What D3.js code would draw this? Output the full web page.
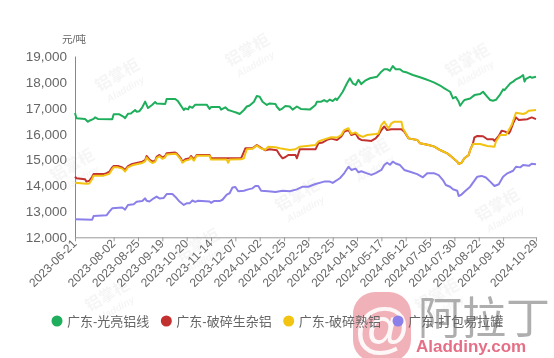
<!DOCTYPE html>
<html><head><meta charset="utf-8">
<script src="https://cdn.jsdelivr.net/npm/d3@7"></script>
<style>
html,body{margin:0;padding:0;background:#fff;}
svg{display:block;font-family:"Liberation Sans",Arial,"Noto Sans CJK SC",sans-serif;}
</style></head><body>
<svg id="c" width="554" height="358"></svg>
<script>
// ---- data ----
const tickLabels = ["2023-06-21","2023-08-02","2023-08-25","2023-09-19","2023-10-20","2023-11-14","2023-12-07","2024-01-02","2024-01-25","2024-02-29","2024-03-25","2024-04-19","2024-05-17","2024-06-12","2024-07-05","2024-07-30","2024-08-22","2024-09-18","2024-10-29"];
const tickIndex = [0,27,44,61,78,95,112,129,146,163,180,197,214,231,248,265,282,299,322];
const lastIndex = 322;
const seriesNames = ["广东-光亮铝线","广东-破碎生杂铝","广东-破碎熟铝","广东-打包易拉罐"];
const yTicks = [12000,13000,14000,15000,16000,17000,18000,19000];

// [day index, price]
const green = [[0,16800],[1,16600],[7,16570],[9,16460],[10,16500],[13,16570],[14,16630],[16,16570],[26,16560],[27,16750],[31,16750],[34,16650],[35,16600],[37,16770],[39,16780],[42,16915],[43,16850],[45,16870],[47,17020],[49,17240],[51,16990],[54,17120],[56,17220],[57,17170],[63,17150],[64,17340],[70,17340],[72,17250],[76,16915],[77,16980],[79,16940],[80,17050],[82,17000],[84,17120],[92,17120],[94,16960],[95,17030],[101,17030],[102,16930],[105,17020],[107,16915],[109,16880],[113,16810],[115,16760],[118,16915],[120,17050],[122,17090],[125,17235],[127,17455],[129,17430],[131,17235],[134,17110],[136,17170],[140,17150],[141,17040],[143,16915],[145,16980],[147,17070],[150,17050],[152,16930],[155,17050],[158,16950],[164,16930],[168,17110],[169,17235],[172,17235],[174,17300],[176,17235],[178,17320],[180,17260],[182,17360],[183,17300],[185,17455],[187,17620],[190,17945],[192,18140],[194,17945],[196,17880],[198,18080],[200,17915],[203,18060],[206,18140],[211,18200],[214,18395],[216,18485],[218,18490],[220,18430],[222,18610],[224,18490],[227,18490],[229,18400],[232,18360],[236,18265],[241,18180],[245,18100],[248,18040],[251,17970],[255,17860],[258,17750],[262,17620],[264,17365],[266,17420],[268,17235],[269,17080],[271,17235],[272,17300],[276,17360],[279,17490],[283,17530],[285,17620],[288,17425],[290,17300],[292,17275],[294,17310],[297,17520],[299,17710],[300,17680],[301,17750],[304,17940],[306,18010],[308,18100],[311,18180],[313,18265],[314,18010],[315,18120],[318,18200],[319,18160],[322,18200]];
const red = [[0,14340],[1,14280],[7,14240],[8,14150],[10,14180],[12,14340],[13,14440],[20,14440],[22,14480],[24,14530],[26,14700],[27,14750],[30,14750],[33,14700],[35,14600],[37,14750],[40,14830],[43,14870],[47,14920],[49,14985],[50,15140],[52,15000],[54,14920],[56,14960],[57,15110],[59,15180],[61,15080],[63,15140],[64,15245],[70,15270],[71,15240],[74,15050],[75,14920],[77,15010],[80,15050],[81,15140],[83,15010],[85,15180],[94,15180],[95,15050],[107,15050],[116,15050],[119,15435],[124,15435],[127,15565],[130,15450],[133,15360],[136,15400],[141,15360],[143,15180],[145,15050],[147,15100],[149,15180],[154,15180],[155,15050],[157,15395],[168,15395],[170,15630],[173,15660],[176,15760],[179,15810],[183,15760],[186,15890],[188,16080],[191,16140],[193,15950],[196,16010],[198,15820],[200,15760],[204,15740],[207,15720],[210,15820],[212,15950],[214,16140],[216,16280],[218,16140],[221,16170],[228,16170],[230,16080],[233,15820],[239,15760],[241,15630],[247,15565],[251,15500],[255,15370],[260,15240],[263,15110],[265,15010],[267,14920],[268,14830],[270,14880],[272,15050],[275,15180],[276,15370],[278,15630],[279,15860],[281,15910],[285,15900],[288,15785],[292,15785],[293,15720],[296,15910],[298,16115],[300,16090],[303,16010],[304,16100],[306,16400],[308,16630],[310,16530],[316,16560],[319,16630],[322,16560]];
const yellow = [[0,14110],[8,14070],[10,14080],[12,14250],[13,14380],[20,14380],[24,14450],[26,14630],[27,14700],[30,14700],[33,14650],[35,14540],[37,14700],[40,14780],[43,14820],[47,14870],[49,14930],[50,15080],[52,14950],[54,14870],[56,14910],[57,15060],[59,15130],[61,15030],[63,15090],[64,15200],[70,15230],[71,15200],[74,15000],[75,14880],[77,14960],[80,15000],[81,15090],[83,14960],[85,15150],[94,15150],[95,15000],[106,15000],[107,14880],[108,15000],[116,15010],[118,15050],[120,15400],[124,15420],[127,15540],[130,15430],[133,15380],[135,15500],[140,15480],[143,15435],[147,15400],[150,15370],[154,15400],[157,15500],[168,15565],[170,15700],[173,15760],[179,15860],[183,15850],[186,15950],[188,16140],[191,16210],[193,16000],[196,16050],[198,15950],[201,15880],[204,15950],[207,15970],[210,15990],[212,16010],[214,16335],[216,16465],[219,16200],[221,16400],[223,16465],[228,16465],[229,16210],[231,16015],[233,15820],[239,15760],[241,15630],[247,15565],[251,15500],[255,15370],[260,15240],[263,15110],[265,15010],[267,14920],[268,14830],[270,14880],[272,15050],[275,15180],[276,15370],[278,15600],[283,15600],[288,15525],[293,15500],[294,15700],[297,15950],[301,15950],[303,16140],[305,16335],[308,16810],[313,16760],[315,16800],[317,16890],[322,16915]];
const purple = [[0,12695],[12,12680],[13,12820],[22,12850],[24,12990],[26,13120],[33,13150],[35,13070],[37,13250],[41,13280],[43,13375],[47,13400],[49,13505],[50,13410],[52,13380],[55,13505],[57,13570],[59,13500],[62,13520],[64,13670],[68,13670],[70,13570],[73,13380],[76,13250],[78,13310],[80,13310],[82,13420],[84,13370],[86,13410],[94,13380],[95,13330],[97,13400],[101,13400],[103,13450],[106,13650],[108,13700],[110,13920],[112,13940],[114,13780],[118,13800],[121,13850],[124,13890],[126,13980],[128,13980],[130,13800],[135,13780],[140,13750],[145,13800],[150,13780],[155,13850],[159,13955],[163,13950],[168,14060],[174,14150],[178,14150],[180,14100],[185,14280],[188,14470],[191,14725],[193,14600],[196,14650],[198,14510],[200,14550],[204,14470],[207,14410],[210,14480],[214,14600],[216,14790],[218,14880],[220,14800],[222,14920],[224,14850],[227,14790],[230,14600],[234,14530],[239,14440],[243,14315],[246,14470],[251,14470],[254,14400],[257,14210],[259,14020],[262,13950],[264,13855],[267,13800],[268,13595],[270,13650],[272,13760],[276,13955],[278,14110],[281,14340],[284,14370],[287,14310],[290,14150],[293,13980],[296,14050],[299,14340],[302,14470],[306,14570],[308,14725],[311,14700],[313,14790],[317,14760],[319,14840],[322,14820]];

const seriesData = [green, red, yellow, purple];
const colors = ["#1fae5b","#c2302f","#f2c311","#8b80ea"];

// ---- drawing ----
const svg = d3.select("#c");

// faint watermarks
const wm = svg.append("g").attr("fill","#000").attr("opacity",0.04);
[[120,80],[250,55],[470,65],[75,170],[370,160],[500,210],[110,300],[300,200],[200,250],[440,300]].forEach(p=>{
  const g = wm.append("g").attr("transform",`translate(${p[0]},${p[1]}) rotate(-30)`);
  g.append("text").attr("font-size",16).attr("font-weight","bold").attr("text-anchor","middle").text("铝掌柜");
  g.append("text").attr("y",14).attr("font-size",10).attr("font-style","italic").attr("font-weight","bold").attr("text-anchor","middle").text("Aladdiny");
});

const x = d3.scaleLinear().domain([0,lastIndex]).range([75,536]);
const y = d3.scaleLinear().domain([12000,19000]).range([237.3,56]);

// y axis
const ya = svg.append("g").attr("transform","translate(75,0)")
  .call(d3.axisLeft(y).tickValues(yTicks).tickSize(0).tickPadding(8).tickFormat(d3.format(",")));
ya.select(".domain").attr("stroke","#888");
ya.selectAll("text").attr("fill","#666").attr("font-size",13.5).attr("font-family","Liberation Sans, Arial, sans-serif");

svg.append("text").attr("x",62).attr("y",43).attr("fill","#666").attr("font-size",10.5).text("元/吨");

// x axis
const xa = svg.append("g").attr("transform","translate(0,237.3)")
  .call(d3.axisBottom(x).tickValues(tickIndex).tickSize(4).tickSizeOuter(0).tickFormat((d,i)=>tickLabels[i]));
xa.select(".domain").attr("stroke","#999");
xa.selectAll(".tick line").attr("stroke","#999");
xa.selectAll("text").attr("fill","#666").attr("font-size",12)
  .attr("text-anchor","end").attr("dy",0).attr("y",0)
  .attr("transform","translate(2,7) rotate(-45)");

// lines
const line = d3.line().x(d=>x(d[0])).y(d=>y(d[1]));
seriesData.forEach((s,i)=>{
  svg.append("path").datum(s).attr("fill","none").attr("stroke",colors[i])
    .attr("stroke-width",2).attr("stroke-linejoin","round").attr("d",line);
});

// pink logo (bottom right)
const lg = svg.append("g");
lg.append("rect").attr("x",353).attr("y",292).attr("width",58).attr("height",70).attr("rx",22).attr("fill","#eea3ad").attr("opacity",0.85);
lg.append("text").attr("x",382).attr("y",346).attr("text-anchor","middle").attr("font-size",56).attr("font-weight","bold").attr("fill","#fff").attr("opacity",0.9).text("@");
lg.append("text").attr("x",418).attr("y",334).attr("font-size",44).attr("font-family","Noto Sans CJK SC").attr("fill","#9a9a9a").attr("opacity",0.8).text("阿拉丁");
lg.append("text").attr("x",416).attr("y",352).attr("font-size",17).attr("font-weight","bold").attr("fill","#e2607a").attr("opacity",0.9).text("Aladdiny.com");

// legend
const leg = svg.append("g").attr("font-size",13).attr("fill","#666");
let lx = 57;
seriesNames.forEach((n,i)=>{
  leg.append("circle").attr("cx",lx).attr("cy",321).attr("r",5.5).attr("fill",colors[i]);
  const t = leg.append("text").attr("x",lx+10).attr("y",325.5).text(n);
  lx += 10 + t.node().getComputedTextLength() + 17;
});
</script>
</body></html>
